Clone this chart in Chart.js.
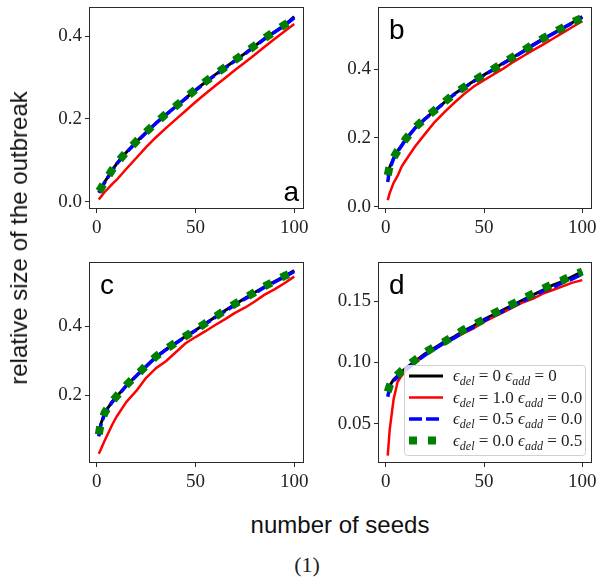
<!DOCTYPE html>
<html>
<head>
<meta charset="utf-8">
<script src="https://cdn.jsdelivr.net/npm/chart.js@4.4.1/dist/chart.umd.min.js"></script>
<style>
  body { margin: 0; background: #fff; }
  #wrap { position: relative; width: 601px; height: 585px; overflow: hidden; background: #fff; }
  canvas { position: absolute; }
  .ylab { position: absolute; left: 19px; top: 238px; transform: translate(-50%, -50%) rotate(-90deg);
          white-space: nowrap; font: 24px 'Liberation Sans', Arial, sans-serif; line-height: 24px; color: #111; }
  .xlab { position: absolute; left: 340px; top: 513px; transform: translateX(-50%);
          white-space: nowrap; font: 24px 'Liberation Sans', Arial, sans-serif; line-height: 24px; color: #111; }
  .cap { position: absolute; left: 307px; top: 554px; transform: translateX(-50%);
         font: 22px 'Liberation Serif', serif; line-height: 22px; color: #222; }
</style>
</head>
<body>
<div id="wrap">
  <canvas id="ca" width="280" height="240" style="left:30px;top:0px"></canvas>
  <canvas id="cb" width="270" height="240" style="left:330px;top:0px"></canvas>
  <canvas id="cc" width="280" height="240" style="left:30px;top:255px"></canvas>
  <canvas id="cd" width="270" height="240" style="left:330px;top:255px"></canvas>
  <div class="ylab">relative size of the outbreak</div>
  <div class="xlab">number of seeds</div>
  <div class="cap">(1)</div>
</div>
<script>
// number of seeds (x values shared by every curve)
var seeds = [1, 2, 4, 6, 8, 10, 15, 20, 25, 30, 35, 40, 45, 50, 55, 60, 65, 70, 75, 80, 85, 90, 95, 100];

// panel a
var aNone  = [0.024, 0.031, 0.048, 0.063, 0.078, 0.092, 0.120, 0.145, 0.168, 0.190, 0.211, 0.230, 0.250, 0.270, 0.289, 0.307, 0.324, 0.341, 0.358, 0.376, 0.394, 0.410, 0.426, 0.447];
var aDel10 = [0.006, 0.012, 0.024, 0.034, 0.044, 0.053, 0.080, 0.106, 0.132, 0.156, 0.178, 0.199, 0.220, 0.241, 0.261, 0.280, 0.299, 0.318, 0.336, 0.355, 0.374, 0.393, 0.411, 0.429];
var aDel05 = [0.022, 0.030, 0.047, 0.062, 0.077, 0.091, 0.119, 0.144, 0.167, 0.190, 0.210, 0.230, 0.249, 0.269, 0.288, 0.306, 0.323, 0.340, 0.357, 0.375, 0.393, 0.409, 0.425, 0.444];
var aAdd05 = [0.026, 0.032, 0.049, 0.064, 0.079, 0.093, 0.121, 0.146, 0.169, 0.191, 0.212, 0.231, 0.251, 0.271, 0.290, 0.308, 0.325, 0.342, 0.359, 0.377, 0.395, 0.411, 0.427, 0.441];

// panel b
var bNone  = [0.090, 0.115, 0.142, 0.162, 0.178, 0.195, 0.230, 0.256, 0.280, 0.304, 0.328, 0.347, 0.366, 0.383, 0.400, 0.418, 0.435, 0.452, 0.471, 0.488, 0.503, 0.519, 0.535, 0.552];
var bDel10 = [0.020, 0.040, 0.070, 0.090, 0.116, 0.134, 0.176, 0.212, 0.247, 0.276, 0.303, 0.328, 0.350, 0.368, 0.385, 0.402, 0.421, 0.438, 0.455, 0.471, 0.488, 0.505, 0.522, 0.539];
var bDel05 = [0.072, 0.110, 0.140, 0.160, 0.177, 0.194, 0.229, 0.255, 0.279, 0.303, 0.327, 0.346, 0.365, 0.382, 0.399, 0.417, 0.434, 0.451, 0.469, 0.486, 0.502, 0.518, 0.534, 0.550];
var bAdd05 = [0.092, 0.118, 0.143, 0.163, 0.179, 0.196, 0.231, 0.257, 0.281, 0.305, 0.329, 0.348, 0.367, 0.384, 0.401, 0.419, 0.436, 0.453, 0.472, 0.489, 0.504, 0.520, 0.536, 0.549];

// panel c
var cNone  = [0.085, 0.115, 0.148, 0.166, 0.182, 0.195, 0.228, 0.256, 0.284, 0.311, 0.332, 0.351, 0.370, 0.388, 0.407, 0.426, 0.445, 0.463, 0.480, 0.497, 0.514, 0.529, 0.544, 0.561];
var cDel10 = [0.030, 0.042, 0.068, 0.092, 0.116, 0.137, 0.180, 0.212, 0.250, 0.278, 0.298, 0.324, 0.350, 0.368, 0.385, 0.403, 0.420, 0.438, 0.453, 0.471, 0.491, 0.506, 0.524, 0.543];
var cDel05 = [0.080, 0.112, 0.146, 0.165, 0.181, 0.194, 0.227, 0.255, 0.283, 0.310, 0.331, 0.350, 0.369, 0.387, 0.406, 0.425, 0.443, 0.461, 0.478, 0.495, 0.512, 0.527, 0.542, 0.558];
var cAdd05 = [0.086, 0.117, 0.149, 0.167, 0.183, 0.196, 0.229, 0.257, 0.285, 0.312, 0.333, 0.352, 0.371, 0.389, 0.408, 0.427, 0.446, 0.464, 0.481, 0.498, 0.515, 0.530, 0.545, 0.557];

// panel d
var dNone  = [0.078, 0.081, 0.086, 0.089, 0.092, 0.095, 0.101, 0.107, 0.112, 0.117, 0.121, 0.126, 0.130, 0.135, 0.139, 0.143, 0.147, 0.151, 0.155, 0.159, 0.163, 0.166, 0.170, 0.174];
var dDel10 = [0.024, 0.045, 0.070, 0.084, 0.089, 0.093, 0.100, 0.106, 0.111, 0.116, 0.120, 0.124, 0.128, 0.133, 0.137, 0.141, 0.145, 0.149, 0.152, 0.156, 0.159, 0.162, 0.165, 0.167];
var dDel05 = [0.072, 0.079, 0.085, 0.088, 0.091, 0.094, 0.100, 0.106, 0.111, 0.116, 0.120, 0.125, 0.129, 0.134, 0.138, 0.142, 0.146, 0.150, 0.154, 0.158, 0.161, 0.165, 0.168, 0.172];
var dAdd05 = [0.076, 0.081, 0.087, 0.090, 0.093, 0.096, 0.102, 0.108, 0.113, 0.117, 0.122, 0.127, 0.131, 0.135, 0.140, 0.144, 0.148, 0.152, 0.156, 0.160, 0.164, 0.167, 0.171, 0.174];

// tick labels
var xTicks = [0, 50, 100];
var aTicks = [0, 0.2, 0.4];
var bTicks = [0, 0.2, 0.4];
var cTicks = [0.2, 0.4];
var dTicks = [0.05, 0.10, 0.15];

// legend text: eps_del and eps_add values
var legDel = ['0', '1.0', '0.5', '0.0'];
var legAdd = ['0', '0.0', '0.0', '0.5'];

var serif = "'Liberation Serif', 'DejaVu Serif', serif";
var sans = "'Liberation Sans', Arial, sans-serif";

function pts(ys) {
	return seeds.map(function(s, i) { return {x: s, y: ys[i]}; });
}

function makeSets(ys) {
	return [
		{ data: pts(ys[0]), borderColor: '#000000', borderWidth: 3, order: 4 },
		{ data: pts(ys[1]), borderColor: '#ff0000', borderWidth: 2.5, order: 3 },
		{ data: pts(ys[2]), borderColor: '#0000ff', borderWidth: 3.5, borderDash: [13, 4], order: 2 },
		{ data: pts(ys[3]), borderColor: '#008000', borderWidth: 8, borderDash: [8, 11], order: 1 }
	];
}

// frame round the plot area + panel letter
var framePlugin = {
	id: 'frame',
	afterDraw: function(chart) {
		var a = chart.chartArea, ctx = chart.ctx, o = chart.options.plugins.frame;
		ctx.save();
		ctx.strokeStyle = '#2a2a2a';
		ctx.lineWidth = 1;
		ctx.strokeRect(a.left + 0.5, a.top + 0.5, a.right - a.left - 1, a.bottom - a.top - 1);
		ctx.fillStyle = '#000';
		ctx.font = '28px ' + sans;
		ctx.textBaseline = 'alphabetic';
		if (o.corner === 'br') {
			ctx.textAlign = 'right';
			ctx.fillText(o.letter, a.right - 5, a.bottom - 8);
		} else {
			ctx.textAlign = 'left';
			ctx.fillText(o.letter, a.left + 11, a.top + 32);
		}
		ctx.restore();
	}
};

function epsText(ctx, x, y, sub) {
	ctx.font = 'italic 17px ' + serif;
	ctx.fillText('\u03f5', x, y);
	x += ctx.measureText('\u03f5').width;
	ctx.font = 'italic 12px ' + serif;
	ctx.fillText(sub, x, y + 4);
	return x + ctx.measureText(sub).width;
}

var legendPlugin = {
	id: 'mathLegend',
	afterDraw: function(chart) {
		if (!chart.options.plugins.mathLegend.show) return;
		var a = chart.chartArea, ctx = chart.ctx;
		var bx = a.left + 26, by = a.top + 103, bw = 181, bh = 90;
		ctx.save();
		ctx.beginPath();
		ctx.roundRect(bx + 0.5, by + 0.5, bw, bh, 3);
		ctx.fillStyle = 'rgba(255,255,255,0.8)';
		ctx.fill();
		ctx.strokeStyle = '#d0d0d0';
		ctx.lineWidth = 1;
		ctx.stroke();
		chart.data.datasets.forEach(function(ds, i) {
			var y = by + 11 + i * 21.5;
			ctx.beginPath();
			ctx.setLineDash(ds.borderDash || []);
			ctx.lineWidth = ds.borderWidth;
			ctx.strokeStyle = ds.borderColor;
			ctx.moveTo(bx + 5, y);
			ctx.lineTo(bx + 39, y);
			ctx.stroke();
			ctx.setLineDash([]);
			ctx.fillStyle = '#222';
			ctx.textBaseline = 'alphabetic';
			ctx.textAlign = 'left';
			var x = bx + 49, base = y + 5;
			x = epsText(ctx, x, base, 'del');
			ctx.font = '17px ' + serif;
			var t = ' = ' + legDel[i] + ' ';
			ctx.fillText(t, x, base);
			x += ctx.measureText(t).width;
			x = epsText(ctx, x, base, 'add');
			ctx.font = '17px ' + serif;
			ctx.fillText(' = ' + legAdd[i], x, base);
		});
		ctx.restore();
	}
};

function makeChart(id, ys, yTicks, yMin, yMax, digits, yWidth, xHeight, padRight, letter, corner, showLegend) {
	var ctx = document.getElementById(id);
	return new Chart(ctx, {
		type: 'line',
		data: { datasets: makeSets(ys) },
		options: {
			responsive: false,
			animation: false,
			layout: { padding: { top: 7, right: padRight, left: 0, bottom: 0 } },
			elements: { point: { radius: 0 }, line: { tension: 0, borderCapStyle: 'butt', borderJoinStyle: 'round' } },
			plugins: {
				legend: { display: false },
				tooltip: { enabled: false },
				frame: { letter: letter, corner: corner },
				mathLegend: { show: showLegend }
			},
			scales: {
				x: {
					type: 'linear', min: -3.95, max: 104.95,
					afterBuildTicks: function(s) { s.ticks = xTicks.map(function(v) { return {value: v}; }); },
					afterFit: function(s) { s.height = xHeight; s.paddingLeft = 0; s.paddingRight = 0; },
					grid: { drawOnChartArea: false, drawTicks: true, tickLength: 4, color: '#2a2a2a' },
					border: { display: false },
					ticks: { color: '#222', padding: 4, maxRotation: 0, font: { family: serif, size: 19 },
						callback: function(v) { return String(v); } }
				},
				y: {
					type: 'linear', min: yMin, max: yMax,
					afterBuildTicks: function(s) { s.ticks = yTicks.map(function(v) { return {value: v}; }); },
					afterFit: function(s) { s.width = yWidth; s.paddingTop = 0; s.paddingBottom = 0; },
					grid: { drawOnChartArea: false, drawTicks: true, tickLength: 4, color: '#2a2a2a' },
					border: { display: false },
					ticks: { color: '#222', padding: 3, font: { family: serif, size: 19 },
						callback: function(v) { return v.toFixed(digits); } }
				}
			}
		},
		plugins: [framePlugin, legendPlugin]
	});
}

makeChart('ca', [aNone, aDel10, aDel05, aAdd05], aTicks, -0.017, 0.470, 1, 59, 31, 6, 'a', 'br', false);
makeChart('cb', [bNone, bDel10, bDel05, bAdd05], bTicks, -0.006, 0.580, 1, 48, 31, 8, 'b', 'tl', false);
makeChart('cc', [cNone, cDel10, cDel05, cAdd05], cTicks, 0.003, 0.5855, 1, 59, 32, 6, 'c', 'tl', false);
makeChart('cd', [dNone, dDel10, dDel05, dAdd05], dTicks, 0.018, 0.1818, 2, 48, 32, 8, 'd', 'tl', true);
</script>
</body>
</html>
